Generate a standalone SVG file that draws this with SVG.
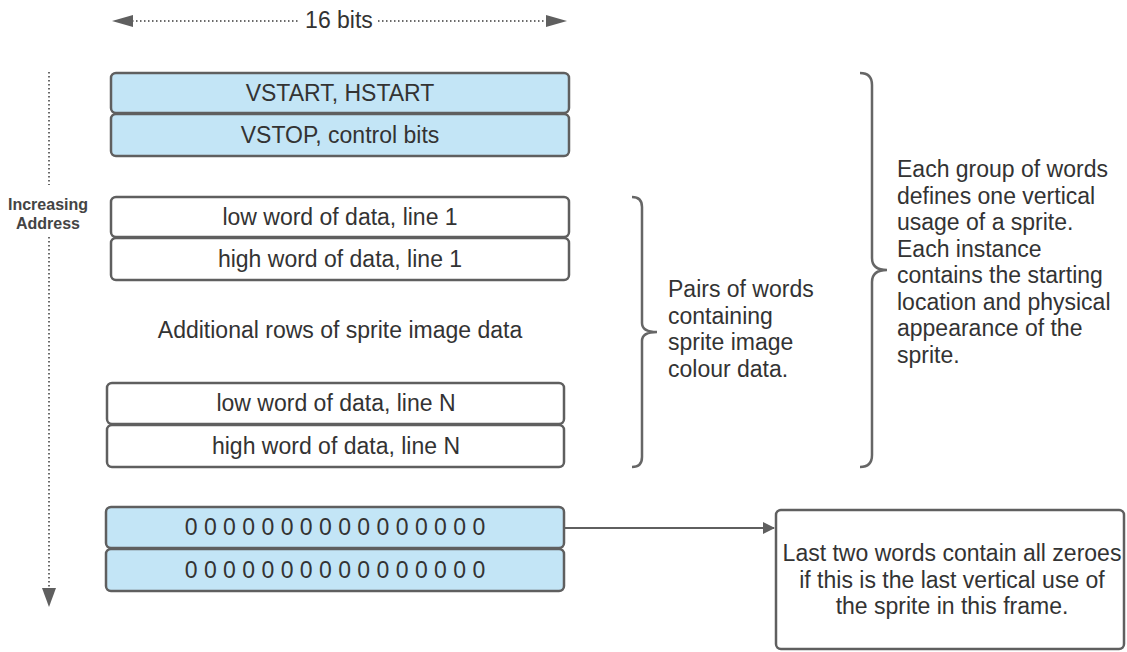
<svg xmlns="http://www.w3.org/2000/svg" width="1127" height="652" viewBox="0 0 1127 652">
<defs>
<style>
.t{font-family:"Liberation Sans",Arial,sans-serif;font-size:23px;fill:#333333}
.c{text-anchor:middle}
.blue{fill:#c3e5f6;stroke:#5f5f5f;stroke-width:2.5}
.white{fill:#ffffff;stroke:#5f5f5f;stroke-width:2.5}
.dot{stroke:#6a6a6a;stroke-width:2;stroke-dasharray:1.5 2.5;fill:none}
.brace{fill:none;stroke:#666666;stroke-width:2.5}
.lbl{font-family:"Liberation Sans",Arial,sans-serif;font-size:16px;font-weight:bold;fill:#444444;text-anchor:middle}
</style>
<marker id="ah" markerWidth="12" markerHeight="12" refX="11" refY="6" orient="auto" markerUnits="userSpaceOnUse">
<path d="M0,0 L12,6 L0,12 Z" fill="#5f5f5f"/>
</marker>
</defs>
<rect width="1127" height="652" fill="#ffffff"/>

<g id="width-indicator">
<line class="dot" x1="132" y1="21" x2="300" y2="21"/>
<line class="dot" x1="378" y1="21" x2="548" y2="21"/>
<path d="M112,21 L133,15 L133,27 Z" fill="#5f5f5f"/>
<path d="M567,21 L546,15 L546,27 Z" fill="#5f5f5f"/>
<text class="t c" x="339" y="28">16 bits</text>
</g>

<g id="address-indicator">
<line class="dot" x1="49" y1="72" x2="49" y2="185"/>
<line class="dot" x1="49" y1="237" x2="49" y2="590"/>
<path d="M42,588 L56,588 L49,607 Z" fill="#5f5f5f"/>
<text class="lbl" x="48" y="210">Increasing</text>
<text class="lbl" x="48" y="229">Address</text>
</g>

<g id="vstart">
<rect class="blue" x="111" y="73" width="458" height="40" rx="5"/>
<text class="t c" x="340" y="101">VSTART, HSTART</text>
</g>
<g id="vstop">
<rect class="blue" x="111" y="114" width="458" height="42" rx="5"/>
<text class="t c" x="340" y="143">VSTOP, control bits</text>
</g>

<g id="low1">
<rect class="white" x="111" y="197" width="458" height="40" rx="5"/>
<text class="t c" x="340" y="225">low word of data, line 1</text>
</g>
<g id="high1">
<rect class="white" x="111" y="238" width="458" height="42" rx="5"/>
<text class="t c" x="340" y="267">high word of data, line 1</text>
</g>

<g id="additional">
<text class="t c" x="340" y="338">Additional rows of sprite image data</text>
</g>

<g id="lowN">
<rect class="white" x="107" y="383" width="457" height="41" rx="5"/>
<text class="t c" x="336" y="411">low word of data, line N</text>
</g>
<g id="highN">
<rect class="white" x="107" y="425" width="457" height="42" rx="5"/>
<text class="t c" x="336" y="454">high word of data, line N</text>
</g>

<g id="zero1">
<rect class="blue" x="106" y="507" width="458" height="41" rx="5"/>
<text class="t c" x="335" y="535">0 0 0 0 0 0 0 0 0 0 0 0 0 0 0 0</text>
</g>
<g id="zero2">
<rect class="blue" x="106" y="549" width="458" height="42" rx="5"/>
<text class="t c" x="335" y="578">0 0 0 0 0 0 0 0 0 0 0 0 0 0 0 0</text>
</g>

<g id="pairs-brace">
<path class="brace" d="M632,197 Q642,197 642,207 L642,323 Q642,332 657,332 Q642,332 642,341 L642,457 Q642,467 632,467"/>
<text class="t" x="668" y="297">Pairs of words</text>
<text class="t" x="668" y="323.5">containing</text>
<text class="t" x="668" y="350">sprite image</text>
<text class="t" x="668" y="376.5">colour data.</text>
</g>

<g id="group-brace">
<path class="brace" d="M860,73 Q872,73 872,85 L872,258 Q872,270 887,270 Q872,270 872,282 L872,455 Q872,467 860,467"/>
<text class="t" x="897" y="177">Each group of words</text>
<text class="t" x="897" y="203.5">defines one vertical</text>
<text class="t" x="897" y="230">usage of a sprite.</text>
<text class="t" x="897" y="256.5">Each instance</text>
<text class="t" x="897" y="283">contains the starting</text>
<text class="t" x="897" y="309.5">location and physical</text>
<text class="t" x="897" y="336">appearance of the</text>
<text class="t" x="897" y="362.5">sprite.</text>
</g>

<g id="note">
<rect class="white" x="776" y="510" width="348" height="139" rx="5"/>
<text class="t c" x="952" y="561">Last two words contain all zeroes</text>
<text class="t c" x="952" y="587.5">if this is the last vertical use of</text>
<text class="t c" x="952" y="614">the sprite in this frame.</text>
</g>

<g id="connectors">
<line x1="565" y1="528" x2="774" y2="528" stroke="#5f5f5f" stroke-width="2" marker-end="url(#ah)"/>
</g>
</svg>
